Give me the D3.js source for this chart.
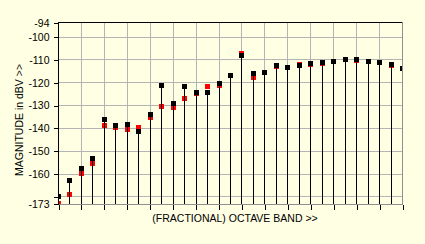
<!DOCTYPE html>
<html>
<head>
<meta charset="utf-8">
<script src="https://cdn.jsdelivr.net/npm/d3@7"></script>
<style>
  body { margin: 0; background: #ffffe3; }
  svg { display: block; font-family: "Liberation Sans", Arial, sans-serif; font-size: 10.5px; }
</style>
</head>
<body>
<div class="visualization"></div>
<script>
(function(){

  // band index 0..30
  var bands = d3.range(31);

  // black series (dBV)
  var measured = [-169.9, -162.6, -157.7, -153.2, -136.2, -138.8, -138.4, -141.5, -133.7, -121.3,
    -128.9, -121.8, -124.4, -124.4, -120.5, -116.9, -108.1, -116.1, -115.4, -112.6,
    -113.5, -112.6, -111.5, -111.3, -110.5, -110.0, -110.0, -110.5, -111.2, -112.2, -113.8];

  // red series (dBV)
  var reference = [-172.7, -169.0, -159.8, -155.4, -138.6, -139.7, -140.5, -139.7, -135.0, -130.5,
    -130.7, -126.7, -124.6, -121.7, -121.0, -116.6, -107.3, -117.6, -115.6, -112.7,
    -113.5, -112.2, -111.8, -111.4, -110.5, -110.0, -110.1, -110.5, -110.9, -112.5, -113.9];

  var yTicks = [-94, -100, -110, -120, -130, -140, -150, -160, -170, -173];
  var yGrid = [-100, -110, -120, -130, -140, -150, -160, -170];
  var xTicks = d3.range(0, 31, 2);

  var plot = { left: 58, top: 22, right: 402, bottom: 204 };

  var svg = d3.select('.visualization')
    .append('svg')
    .attr('width', 425)
    .attr('height', 244);

  var x = d3.scaleLinear().domain([0, 30]).range([plot.left, plot.right]);
  var y = d3.scaleLinear().domain([-173.3, -93.6]).range([plot.bottom, plot.top]);

  svg.append('clipPath').attr('id', 'plotClip')
    .append('rect')
    .attr('x', plot.left).attr('y', plot.top)
    .attr('width', plot.right - plot.left + 1)
    .attr('height', plot.bottom - plot.top + 1);

  // grid
  var grid = svg.append('g').attr('stroke', '#b4b4b4').attr('shape-rendering', 'crispEdges');
  grid.selectAll('.hg').data(yGrid).enter().append('line')
    .attr('x1', plot.left).attr('x2', plot.right)
    .attr('y1', function(d){ return Math.round(y(d)) + 0.5; })
    .attr('y2', function(d){ return Math.round(y(d)) + 0.5; });
  grid.selectAll('.vg').data(xTicks.slice(1, -1)).enter().append('line')
    .attr('y1', plot.top).attr('y2', plot.bottom)
    .attr('x1', function(d){ return Math.round(x(d)) + 0.5; })
    .attr('x2', function(d){ return Math.round(x(d)) + 0.5; });

  var marks = svg.append('g').attr('clip-path', 'url(#plotClip)').attr('shape-rendering', 'crispEdges');
  var s = 5;

  marks.selectAll('.red').data(bands).enter().append('rect')
    .attr('fill', '#ff0000')
    .attr('x', function(d){ return Math.round(x(d)) - 2; })
    .attr('y', function(d){ return Math.round(y(reference[d])) - 2; })
    .attr('width', s).attr('height', s);

  marks.selectAll('.stem').data(bands).enter().append('line')
    .attr('stroke', '#000')
    .attr('x1', function(d){ return Math.round(x(d)) + 0.5; })
    .attr('x2', function(d){ return Math.round(x(d)) + 0.5; })
    .attr('y1', plot.bottom)
    .attr('y2', function(d){ return Math.round(y(measured[d])); });

  marks.selectAll('.black').data(bands).enter().append('rect')
    .attr('fill', '#000')
    .attr('x', function(d){ return Math.round(x(d)) - 2; })
    .attr('y', function(d){ return Math.round(y(measured[d])) - 2; })
    .attr('width', s).attr('height', s);

  // frame: top/left dark, bottom/right grey
  var frame = svg.append('g').attr('shape-rendering', 'crispEdges');
  frame.append('line').attr('stroke', '#000')
    .attr('x1', plot.left).attr('x2', plot.right + 1).attr('y1', plot.top + 0.5).attr('y2', plot.top + 0.5);
  frame.append('line').attr('stroke', '#909090')
    .attr('x1', plot.left).attr('x2', plot.right + 1).attr('y1', plot.bottom + 0.5).attr('y2', plot.bottom + 0.5);
  frame.append('line').attr('stroke', '#909090')
    .attr('x1', plot.right + 0.5).attr('x2', plot.right + 0.5).attr('y1', plot.top).attr('y2', plot.bottom + 1);
  frame.append('line').attr('stroke', '#000')
    .attr('x1', plot.left + 0.5).attr('x2', plot.left + 0.5).attr('y1', plot.top).attr('y2', plot.bottom + 1);

  // axes
  var yAxis = d3.axisLeft(y)
    .tickValues(yTicks)
    .tickSize(5)
    .tickPadding(4)
    .tickFormat(function(d){ return d === -170 ? '' : d; });

  var gy = svg.append('g')
    .attr('transform', 'translate(' + (plot.left + 0.5) + ',0.5)')
    .call(yAxis);
  gy.select('.domain').remove();
  gy.selectAll('text').attr('font-size', 10.5).attr('font-family', '"Liberation Sans", Arial, sans-serif').attr('fill', '#000');
  gy.selectAll('line').attr('stroke', '#000').attr('shape-rendering', 'crispEdges');

  var xAxis = d3.axisBottom(x)
    .tickValues(xTicks)
    .tickSize(5)
    .tickFormat('');

  var gx = svg.append('g')
    .attr('transform', 'translate(0.5,' + (plot.bottom + 0.5) + ')')
    .call(xAxis);
  gx.select('.domain').remove();
  gx.selectAll('line').attr('stroke', '#000').attr('shape-rendering', 'crispEdges');

  // titles
  svg.append('text')
    .attr('x', 235).attr('y', 222)
    .attr('text-anchor', 'middle')
    .text('(FRACTIONAL) OCTAVE BAND >>');

  svg.append('text')
    .attr('transform', 'translate(23,120) rotate(-90)')
    .attr('text-anchor', 'middle')
    .text('MAGNITUDE in dBV >>');

}());
</script>
</body>
</html>
